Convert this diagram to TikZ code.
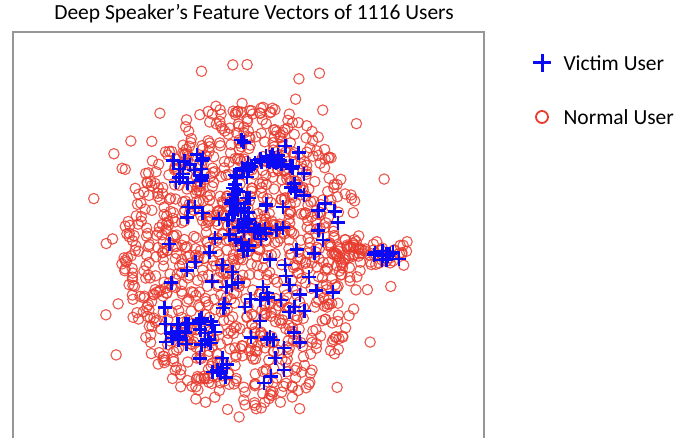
\documentclass[tikz,border=0pt]{standalone}
\usepackage{fontspec}
\setmainfont{Carlito}
\definecolor{normalred}{RGB}{232,58,45}
\definecolor{victimblue}{RGB}{10,10,245}
\definecolor{framegray}{RGB}{150,150,150}

\begin{document}
\begin{tikzpicture}[x=1pt, y=-1pt,
  normal/.style={draw=normalred, line width=1.1pt, draw opacity=0.85},
  victim/.style={draw=victimblue, line width=2.5pt},
  every node/.style={font=\fontsize{21.5}{25}\selectfont}]

\useasboundingbox (0,0) rectangle (699,438);

\node (title) at (254,14) {Deep Speaker’s Feature Vectors of 1116 Users};
\draw[framegray, line width=1.4pt] (13,438) -- (13,32) -- (484,32) -- (484,438);

% normal users
\pgfmathsetseed{23}
\foreach \i in {1,...,1000}{
  \pgfmathsetmacro\r{pow(rnd,0.55)}
  \pgfmathsetmacro\t{360*rnd}
  \pgfmathsetmacro\px{243+120*\r*cos(\t)}
  \pgfmathsetmacro\py{256+156*\r*sin(\t)}
  \draw[normal] (\px,\py) circle (5.2pt);
}
\foreach \i in {1,...,75}{
  \pgfmathsetmacro\r{pow(rnd,0.5)}
  \pgfmathsetmacro\t{360*rnd}
  \pgfmathsetmacro\px{245+160*\r*cos(\t)}
  \pgfmathsetmacro\py{240+195*\r*sin(\t)}
  \draw[normal] (\px,\py) circle (5.2pt);
}
\foreach \i in {1,...,55}{
  \pgfmathsetmacro\px{368+40*rand}
  \pgfmathsetmacro\py{252+7*(rand+rand)}
  \draw[normal] (\px,\py) circle (5.2pt);
}

% victim users
\foreach \i in {1,...,110}{
  \pgfmathsetmacro\r{pow(rnd,0.6)}
  \pgfmathsetmacro\t{360*rnd}
  \pgfmathsetmacro\px{250+95*\r*cos(\t)}
  \pgfmathsetmacro\py{260+125*\r*sin(\t)}
  \draw[victim] (\px-7,\py) -- (\px+7,\py) (\px,\py-7) -- (\px,\py+7);
}
\foreach \i in {1,...,55}{
  \pgfmathsetmacro\t{195+135*rand}
  \pgfmathsetmacro\px{270+36*cos(\t)+5*rand}
  \pgfmathsetmacro\py{195+36*sin(\t)+5*rand}
  \draw[victim] (\px-7,\py) -- (\px+7,\py) (\px,\py-7) -- (\px,\py+7);
}
\foreach \i in {1,...,22}{
  \pgfmathsetmacro\px{188+25*rand}
  \pgfmathsetmacro\py{332+14*rand}
  \draw[victim] (\px-7,\py) -- (\px+7,\py) (\px,\py-7) -- (\px,\py+7);
}
\foreach \i in {1,...,12}{
  \pgfmathsetmacro\px{386+14*rand}
  \pgfmathsetmacro\py{256+6*rand}
  \draw[victim] (\px-7,\py) -- (\px+7,\py) (\px,\py-7) -- (\px,\py+7);
}
\foreach \i in {1,...,12}{
  \pgfmathsetmacro\px{195+22*rand}
  \pgfmathsetmacro\py{168+16*rand}
  \draw[victim] (\px-7,\py) -- (\px+7,\py) (\px,\py-7) -- (\px,\py+7);
}

% legend
\draw[victim, line width=3pt] (533,63) -- (551,63) (542,54) -- (542,72);
\node[anchor=west] (victimlabel) at (560,63) {Victim User};
\draw[normal, line width=1.8pt, draw opacity=1] (542,117) circle (6pt);
\node[anchor=west] (normallabel) at (560,117) {Normal User};

\end{tikzpicture}
\end{document}
